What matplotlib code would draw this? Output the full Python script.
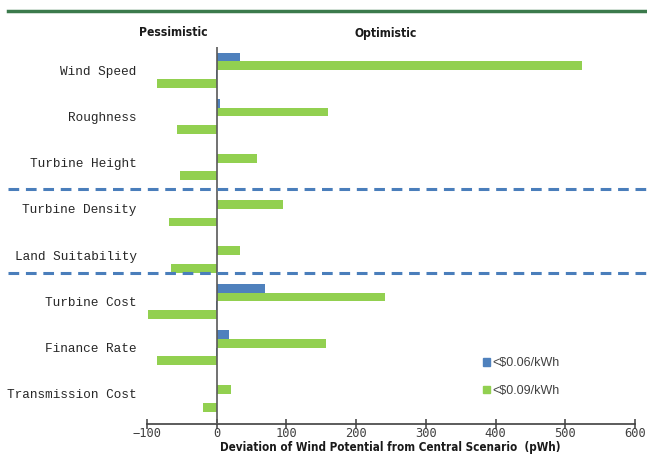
import numpy as np
import matplotlib
matplotlib.use('Agg')
import matplotlib.pyplot as plt
from matplotlib.lines import Line2D
from matplotlib.patches import Patch

# --- data ---
categories = ['Wind Speed', 'Roughness', 'Turbine Height', 'Turbine Density',
              'Land Suitability', 'Turbine Cost', 'Finance Rate', 'Transmission Cost']
opt_006 = [33, 4, 0, 0, 0, 69, 17, 0]          # optimistic, <$0.06/kWh
opt_009 = [524, 159, 58, 95, 33, 241, 157, 20]  # optimistic, <$0.09/kWh
pes_006 = [-1, 0, 0, 0, 0, -1, -1, 0]           # pessimistic, <$0.06/kWh
pes_009 = [-86, -57, -52, -69, -65, -99, -86, -20]  # pessimistic, <$0.09/kWh
separators = [2.58, 4.39]  # dashed group dividers (between categories)
xticks = [-100, 0, 100, 200, 300, 400, 500, 600]

blue = '#4f81bd'
green = '#92d050'
narrow = dict(fontfamily='DejaVu Sans', fontweight='bold', fontstretch='condensed',
              color='#1a1a1a')

fig = plt.figure(figsize=(6.47, 4.58), dpi=100)
ax = fig.add_axes([147 / 647, 1 - 424 / 458, 488 / 647, (424 - 47) / 458])

y = np.arange(len(categories))
h = 0.19
ax.barh(y - 1.5 * h, opt_006, height=h, color=blue, edgecolor='none')
ax.barh(y - 0.5 * h, opt_009, height=h, color=green, edgecolor='none')
ax.barh(y + 0.5 * h, pes_006, height=h, color=blue, edgecolor='none')
ax.barh(y + 1.5 * h, pes_009, height=h, color=green, edgecolor='none')

ax.set_xlim(-100, 600)
ax.set_ylim(7.65, -0.5)
ax.axvline(0, color='#595959', lw=1.2, zorder=3)

for s in ['left', 'right', 'top']:
    ax.spines[s].set_visible(False)
ax.spines['bottom'].set_color('#404040')
ax.spines['bottom'].set_linewidth(1.2)

ax.set_xticks(xticks)
ax.set_xticklabels(['\u2212100' if t < 0 else str(t) for t in xticks],
                   fontfamily='DejaVu Sans Mono', fontsize=8.7, color='#404040')
ax.tick_params(axis='x', direction='inout', length=7, width=1.1, color='#404040', pad=-1)
ax.set_yticks(y)
ax.set_yticklabels(categories, fontfamily='Liberation Mono', fontsize=9.2, color='#262626')
ax.tick_params(axis='y', length=0, pad=7.5)

fig.text(390 / 647, 1 - 447 / 458,
         'Deviation of Wind Potential from Central Scenario  (pWh)',
         ha='center', va='center', fontsize=8.4, **narrow)

# dashed group dividers across the full width
for s in separators:
    ax.axhline(s, xmin=(8 - 147) / 488, xmax=(647 - 147) / 488, color='#4a7ebb',
               lw=2.2, ls=(0, (3.5, 2.2)), clip_on=False, zorder=4)

# top rule
fig.add_artist(Line2D([8 / 647, 1.0], [1 - 11 / 458] * 2, color='#3b7a4c', lw=2.5))

fig.text(173 / 647, 1 - 33 / 458, 'Pessimistic', ha='center', va='center',
         fontsize=8.7, **narrow)
fig.text(386 / 647, 1 - 33 / 458, 'Optimistic', ha='center', va='center',
         fontsize=8.7, **narrow)

handles = [Patch(color=blue), Patch(color=green)]
ax.legend(handles, [r'<\$0.06/kWh', r'<\$0.09/kWh'], loc='upper left',
          bbox_to_anchor=((472 - 147) / 488, (424 - 346) / 377), frameon=False,
          handlelength=0.55, handleheight=0.55, handletextpad=0.15, labelspacing=1.25,
          prop={'family': 'Liberation Sans', 'size': 9}, labelcolor='#404040')

fig.savefig('out.png', dpi=100)
